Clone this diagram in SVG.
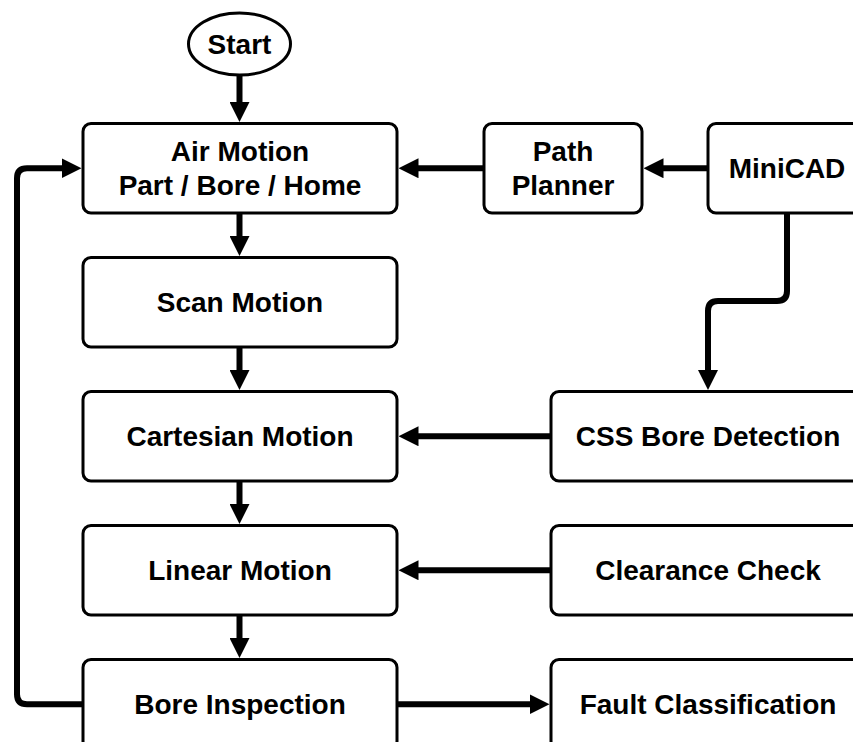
<svg xmlns="http://www.w3.org/2000/svg" width="853" height="742" viewBox="0 0 853 742">
<style>
.box{fill:#fff;stroke:#000;stroke-width:3}
.lbl{font-family:"Liberation Sans",Arial,sans-serif;font-weight:bold;font-size:28px;fill:#000;text-anchor:middle}
.cn{fill:none;stroke:#000;stroke-width:6;marker-end:url(#ah)}
</style>
<defs>
<marker id="ah" markerUnits="userSpaceOnUse" markerWidth="20" markerHeight="20" viewBox="0 0 20 20" refX="2" refY="10" orient="auto">
<path d="M0,0 L20,10 L0,20 z" fill="#000"/>
</marker>
</defs>
<rect width="853" height="742" fill="#fff"/>
<g id="connectors">
<path class="cn" d="M239.5,75 V104"/>
<path class="cn" d="M239.5,213 V238"/>
<path class="cn" d="M239.5,347 V372"/>
<path class="cn" d="M239.5,481 V506"/>
<path class="cn" d="M239.5,615 V640"/>
<path class="cn" d="M484,168.25 H416.5"/>
<path class="cn" d="M708,168.25 H661.5"/>
<path class="cn" d="M787,213 V291 Q787,301 777,301 H718 Q708,301 708,311 V372"/>
<path class="cn" d="M551,436.25 H416.5"/>
<path class="cn" d="M551,570.25 H416.5"/>
<path class="cn" d="M397,704.25 H531.5"/>
<path class="cn" d="M83,704.25 H27 Q17,704.25 17,694.25 V178.25 Q17,168.25 27,168.25 H63.5"/>
</g>
<g id="start">
<ellipse class="box" cx="239.5" cy="44" rx="51" ry="31"/>
<text class="lbl" x="239.5" y="54">Start</text>
</g>
<g id="air-motion">
<rect class="box" x="83" y="123.5" width="314" height="89.5" rx="8"/>
<text class="lbl" x="240" y="161">Air Motion</text>
<text class="lbl" x="240" y="195">Part / Bore / Home</text>
</g>
<g id="path-planner">
<rect class="box" x="484" y="123.5" width="158" height="89.5" rx="8"/>
<text class="lbl" x="563" y="161">Path</text>
<text class="lbl" x="563" y="195">Planner</text>
</g>
<g id="minicad">
<rect class="box" x="708" y="123.5" width="158" height="89.5" rx="8"/>
<text class="lbl" x="787" y="178">MiniCAD</text>
</g>
<g id="scan-motion">
<rect class="box" x="83" y="257.5" width="314" height="89.5" rx="8"/>
<text class="lbl" x="240" y="312">Scan Motion</text>
</g>
<g id="cartesian-motion">
<rect class="box" x="83" y="391.5" width="314" height="89.5" rx="8"/>
<text class="lbl" x="240" y="446">Cartesian Motion</text>
</g>
<g id="css-bore-detection">
<rect class="box" x="551" y="391.5" width="314" height="89.5" rx="8"/>
<text class="lbl" x="708" y="446">CSS Bore Detection</text>
</g>
<g id="linear-motion">
<rect class="box" x="83" y="525.5" width="314" height="89.5" rx="8"/>
<text class="lbl" x="240" y="580">Linear Motion</text>
</g>
<g id="clearance-check">
<rect class="box" x="551" y="525.5" width="314" height="89.5" rx="8"/>
<text class="lbl" x="708" y="580">Clearance Check</text>
</g>
<g id="bore-inspection">
<rect class="box" x="83" y="659.5" width="314" height="89.5" rx="8"/>
<text class="lbl" x="240" y="714">Bore Inspection</text>
</g>
<g id="fault-classification">
<rect class="box" x="551" y="659.5" width="314" height="89.5" rx="8"/>
<text class="lbl" x="708" y="714">Fault Classification</text>
</g>
</svg>
